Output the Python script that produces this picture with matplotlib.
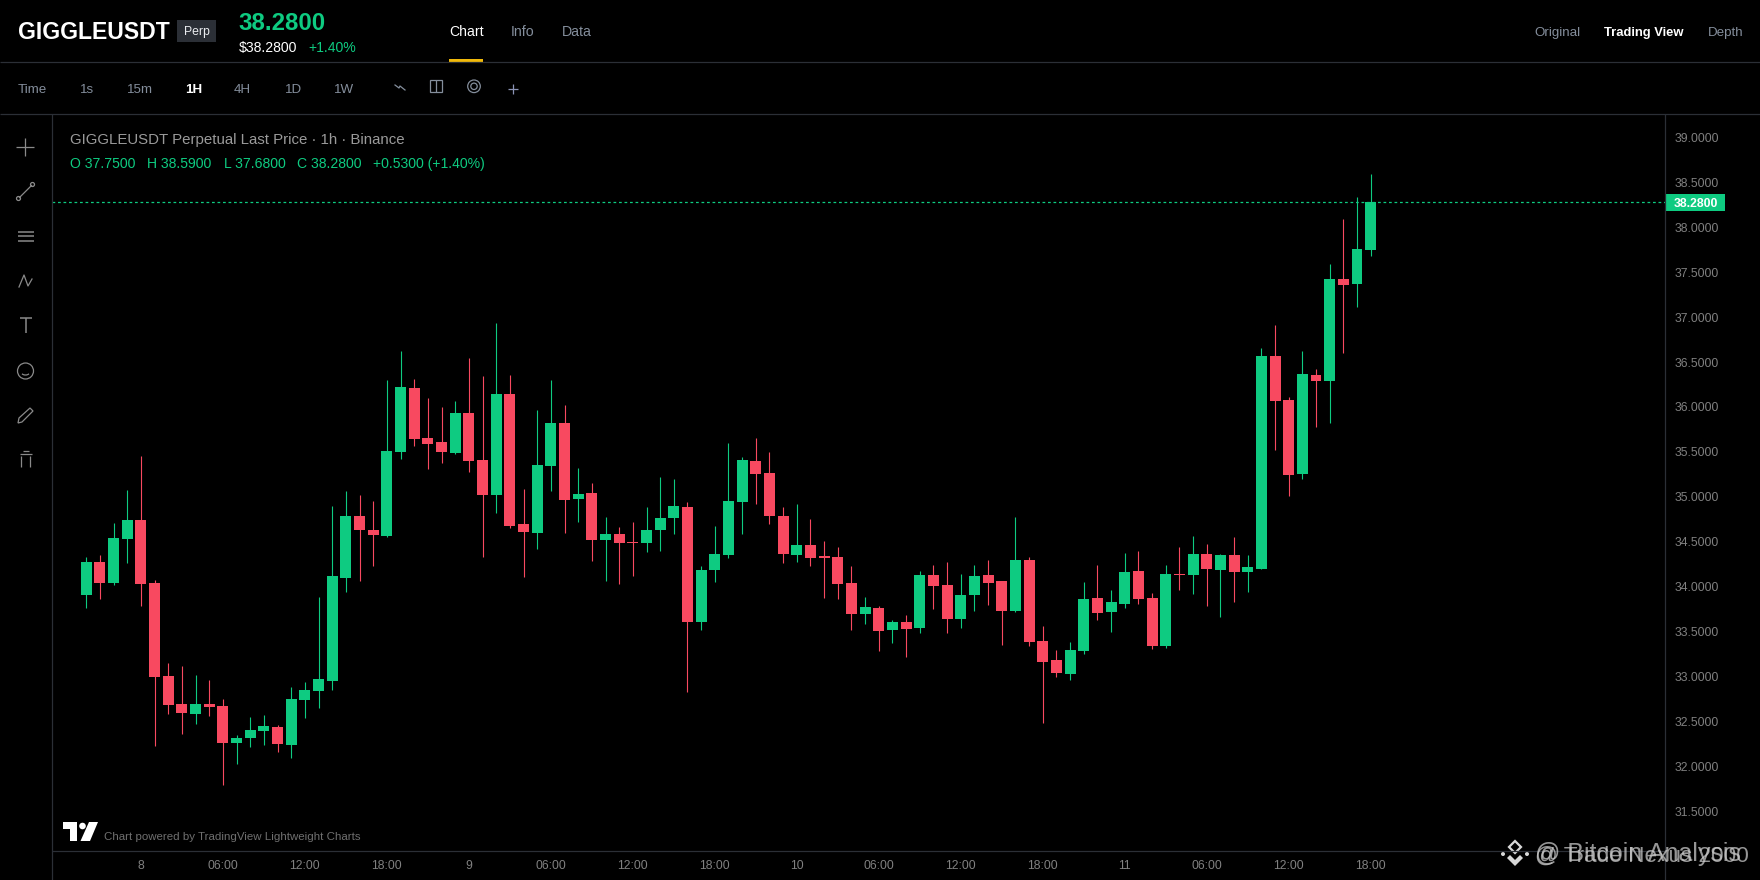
import matplotlib
matplotlib.use("Agg")
import matplotlib.pyplot as plt
from matplotlib.patches import Rectangle, Polygon, Circle, Arc
from matplotlib.transforms import blended_transform_factory

plt.rcParams['font.family'] = ['Liberation Sans', 'DejaVu Sans']

opens = [33.91,34.27,34.04,34.53,34.74,34.04,33.00,32.69,32.58,32.69,32.67,32.26,32.31,32.39,32.44,32.24,32.74,32.84,32.95,34.10,
         34.79,34.63,34.56,35.50,36.21,35.65,35.61,35.49,35.93,35.41,35.02,36.15,34.70,34.60,35.34,35.82,34.98,35.04,34.52,34.59,
         34.50,34.48,34.63,34.76,34.89,33.61,34.18,34.35,34.94,35.40,35.27,34.79,34.35,34.46,34.34,34.33,34.04,33.70,33.76,33.52,
         33.61,33.54,34.13,34.02,33.64,33.91,34.13,34.06,33.73,34.30,33.39,33.18,33.03,33.28,33.87,33.72,33.81,34.17,33.87,33.34,
         34.14,34.13,34.36,34.19,34.35,34.16,34.20,36.57,36.08,35.25,36.36,36.29,37.42,37.37,37.75]
highs = [34.33,34.35,34.71,35.08,35.45,34.07,33.15,33.12,33.02,32.96,32.75,32.35,32.55,32.57,32.46,32.88,32.94,33.88,34.90,35.06,
         35.02,34.95,36.30,36.62,36.31,36.10,36.00,36.07,36.55,36.35,36.94,36.36,35.09,35.97,36.30,36.02,35.32,35.15,34.78,34.66,
         34.72,34.89,35.22,35.20,34.94,34.23,34.68,35.60,35.44,35.66,35.50,34.89,34.92,34.75,34.51,34.44,34.23,33.88,33.78,33.63,
         33.68,34.17,34.24,34.27,34.14,34.24,34.30,34.06,34.78,34.33,33.56,33.29,33.38,34.05,34.24,33.96,34.37,34.40,33.93,34.24,
         34.44,34.56,34.47,34.36,34.55,34.35,36.66,36.91,36.11,36.62,36.42,37.59,38.09,38.34,38.59]
lows = [33.76,33.86,34.02,34.26,33.78,32.22,32.58,32.36,32.47,32.56,31.79,32.02,32.21,32.24,32.16,32.09,32.54,32.65,32.85,33.94,
        34.06,34.23,34.55,35.42,35.57,35.31,35.38,35.48,35.28,34.33,34.82,34.65,34.11,34.42,35.06,34.60,34.72,34.29,34.06,34.03,
        34.12,34.39,34.40,34.58,32.83,33.52,34.05,34.32,34.59,34.92,34.70,34.26,34.27,34.23,33.87,33.86,33.52,33.58,33.28,33.37,
        33.22,33.48,33.75,33.48,33.54,33.73,33.80,33.35,33.72,33.34,32.48,32.99,32.96,33.25,33.63,33.49,33.76,33.81,33.31,33.32,
        33.96,33.92,33.78,33.66,33.83,33.94,34.20,35.52,35.01,35.20,35.78,35.82,36.60,37.11,37.68]
closes = [34.27,34.04,34.54,34.74,34.03,32.99,32.68,32.59,32.69,32.66,32.26,32.31,32.40,32.45,32.25,32.75,32.85,32.97,34.12,34.79,
          34.63,34.57,35.51,36.22,35.64,35.59,35.50,35.93,35.40,35.02,36.15,34.68,34.61,35.35,35.82,34.96,35.03,34.52,34.59,34.49,
          34.48,34.63,34.76,34.90,33.61,34.18,34.36,34.95,35.41,35.25,34.79,34.36,34.46,34.32,34.32,34.03,33.70,33.77,33.51,33.61,
          33.53,34.13,34.01,33.64,33.91,34.12,34.04,33.73,34.30,33.38,33.16,33.04,33.29,33.86,33.71,33.83,34.16,33.86,33.34,34.14,
          34.13,34.36,34.20,34.35,34.16,34.22,36.57,36.07,35.24,36.37,36.29,37.42,37.36,37.76,38.28]

price_ticks = [39.0,38.5,38.0,37.5,37.0,36.5,36.0,35.5,35.0,34.5,34.0,33.5,33.0,32.5,32.0,31.5]
time_positions = [4,10,16,22,28,34,40,46,52,58,64,70,76,82,88,94]
time_labels = ['8','06:00','12:00','18:00','9','06:00','12:00','18:00','10','06:00','12:00','18:00','11','06:00','12:00','18:00']
intervals = ['1s','15m','1H','4H','1D','1W']

UP = '#0ecb81'; DOWN = '#f84960'; LINE = '#2b2f36'; GREY = '#808080'; MUTED = '#848e9c'
W, H = 1760, 880
fig = plt.figure(figsize=(W/100, H/100), dpi=100, facecolor='#000000')

# price pane
L, R, T, B = 52, 1665, 114.5, 851.3
ax = fig.add_axes([L/W, 1-B/H, (R-L)/W, (B-T)/H], facecolor='#000000')
for k in range(len(opens)):
    c = UP if closes[k] >= opens[k] else DOWN
    wick = ax.vlines(k, lows[k], highs[k], color=c, lw=0.8, zorder=2)
    wick.set_snap(True)
    lo, hi = min(opens[k], closes[k]), max(opens[k], closes[k])
    ax.bar(k, hi-lo, bottom=lo, width=0.8, color=c, lw=0, zorder=3)
ax.set_xlim(-2.51, 115.54)
ax.set_ylim(31.052, 39.257)
ax.axhline(closes[-1], color=UP, lw=0.9, ls=(0, (2.2, 2.2)), zorder=1)
ax.yaxis.tick_right()
ax.set_yticks(price_ticks)
ax.set_yticklabels([f'{p:.4f}' for p in price_ticks])
ax.set_xticks(time_positions)
ax.set_xticklabels(time_labels)
ax.tick_params(axis='y', length=0, pad=7.2, labelsize=8.8, labelcolor=GREY)
ax.tick_params(axis='x', length=0, pad=6, labelsize=8.8, labelcolor=GREY)
for s in ax.spines.values():
    s.set_visible(False)

tr = blended_transform_factory(ax.transAxes, ax.transData)
tw = 60/(R-L); th = 8.4/89.8
ax.add_patch(Rectangle((1, closes[-1]-th), tw, 2*th, transform=tr, color=UP, lw=0, clip_on=False, zorder=5))
ax.text(1+31/(R-L), closes[-1], f'{closes[-1]:.4f}', transform=tr, color='white', fontsize=8.8, fontweight='bold',
        ha='center', va='center_baseline', zorder=6)

# page furniture, in pixels
ui = fig.add_axes([0, 0, 1, 1], facecolor='none')
ui.set_xlim(0, W); ui.set_ylim(H, 0); ui.axis('off')

def txt(x, y, s, size, color, weight='normal', ha='left'):
    ui.text(x, y + 0.36*size*100/72, s, fontsize=size, color=color, fontweight=weight, ha=ha, va='baseline')

def ln(xs, ys, color=LINE, lw=0.9):
    ui.plot(xs, ys, color=color, lw=lw, solid_capstyle='butt')

ln([0, W], [62.3, 62.3]); ln([0, W], [114.4, 114.4])
ln([L, L], [114.4, H]); ln([R, R], [114.4, H]); ln([L, R], [B, B])
ui.add_patch(Rectangle((449, 59.5), 34, 2.6, color='#f0b90b', lw=0))

txt(18, 30.7, 'GIGGLEUSDT', 16.6, 'white', 'bold')
ui.add_patch(Rectangle((177, 20), 39, 22, color='#2b2f36', lw=0))
txt(196.5, 31, 'Perp', 8.8, '#eaecef', ha='center')
txt(238.5, 21, '38.2800', 17.3, UP, 'bold')
txt(239, 47.3, '$38.2800', 10.1, 'white')
txt(308, 47.3, '+1.40%', 10.1, UP)
txt(449, 31, 'Chart', 10.1, 'white')
txt(511, 31, 'Info', 10.2, MUTED)
txt(562, 31, 'Data', 10.2, MUTED)
txt(1534.7, 31.3, 'Original', 9.6, MUTED)
txt(1603.7, 31.3, 'Trading View', 9.4, 'white', 'bold')
txt(1707.7, 31.3, 'Depth', 9.6, MUTED)

txt(18, 88.3, 'Time', 9.6, MUTED)
for s, x in zip(intervals, [79.5, 127, 185, 234, 285, 333.5]):
    if s == '1H':
        txt(x, 88.3, s, 9.6, 'white', 'bold')
    else:
        txt(x, 88.3, s, 9.6, MUTED)
ui.plot([395, 399, 400, 405], [85, 88, 86, 90], color=MUTED, lw=0.9)
ui.add_patch(Rectangle((429.5, 80), 12.5, 12.5, fill=False, ec=MUTED, lw=0.9))
ln([435.8, 435.8], [80, 92.5], MUTED)
ui.add_patch(Circle((474, 86.3), 6.3, fill=False, ec=MUTED, lw=0.9))
ui.add_patch(Circle((474, 86.3), 3.2, fill=False, ec=MUTED, lw=0.9))
ln([508, 518], [89.5, 89.5], '#8b93b5'); ln([513, 513], [84.5, 94.5], '#8b93b5')

txt(70, 138.7, 'GIGGLEUSDT Perpetual Last Price · 1h · Binance', 10.82, '#9a9a9a')
o, h, l, c = opens[-1], highs[-1], lows[-1], closes[-1]
for x, s in zip([70, 147, 224, 297, 373],
                [f'O {o:.4f}', f'H {h:.4f}', f'L {l:.4f}', f'C {c:.4f}', f'+{c-o:.4f} (+1.40%)']):
    txt(x, 163, s, 10.05, UP)

# drawing tools on the left
ICON = '#8a8a8a'
ln([16, 34], [146.7, 146.7], ICON); ln([25, 25], [137.7, 155.7], ICON)
ln([19, 32], [198, 185], ICON)
ui.add_patch(Circle((18.5, 198.5), 2, fill=False, ec=ICON, lw=0.9))
ui.add_patch(Circle((32.5, 184.5), 2, fill=False, ec=ICON, lw=0.9))
for y in [232, 236.5, 241]:
    ln([17.5, 33.5], [y, y], ICON, 1.1)
ui.plot([19, 24, 28, 32], [287, 275, 286, 279], color=ICON, lw=0.9)
ln([20, 32], [318.5, 318.5], ICON, 1.1); ln([25.5, 25.5], [318.5, 333], ICON, 1.1)
ui.add_patch(Circle((25.5, 371), 8, fill=False, ec=ICON, lw=0.9))
ui.add_patch(Arc((25.5, 372.5), 8, 5, theta1=20, theta2=160, ec=ICON, lw=0.9))
ui.add_patch(Polygon([(18, 423), (19, 418), (30, 408), (33, 411), (22, 422)], fill=False, ec=ICON, lw=0.9))
ln([19.5, 31.5], [454.5, 454.5], ICON); ln([22.5, 28.5], [451, 451], ICON)
ln([20.5, 20.5], [456, 467], ICON); ln([30, 30], [456, 467], ICON)

# attribution
ui.add_patch(Polygon([(63, 822), (77, 822), (77, 841), (70, 841), (70, 829), (63, 829)], color='white', lw=0))
ui.add_patch(Circle((82.5, 826), 3.3, color='white', lw=0))
ui.add_patch(Polygon([(89, 822), (98, 822), (90, 841), (80.5, 841)], color='white', lw=0))
txt(104, 836, 'Chart powered by TradingView Lightweight Charts', 8.25, '#6f6f6f')

# overlaid source watermarks
ui.add_patch(Polygon([(1515, 841), (1521, 847), (1515, 853), (1509, 847)], fill=False, ec='#d8d8d8', lw=1.6))
ui.add_patch(Polygon([(1515, 866), (1507, 858), (1510, 855), (1515, 860), (1520, 855), (1523, 858)], color='#d8d8d8', lw=0))
ui.add_patch(Circle((1503, 854), 2, color='#d8d8d8', lw=0))
ui.add_patch(Circle((1527, 854), 2, color='#d8d8d8', lw=0))
ui.text(1535, 861.5, '@ Trade Nexus 2000', fontsize=16.2, color='#c8c8c8', alpha=0.75, va='baseline')
ui.text(1535, 861.5, '@ Bitcoin Analysis', fontsize=18.0, color='#c8c8c8', alpha=0.75, va='baseline')

fig.savefig('out.png', dpi=100, facecolor='#000000')
